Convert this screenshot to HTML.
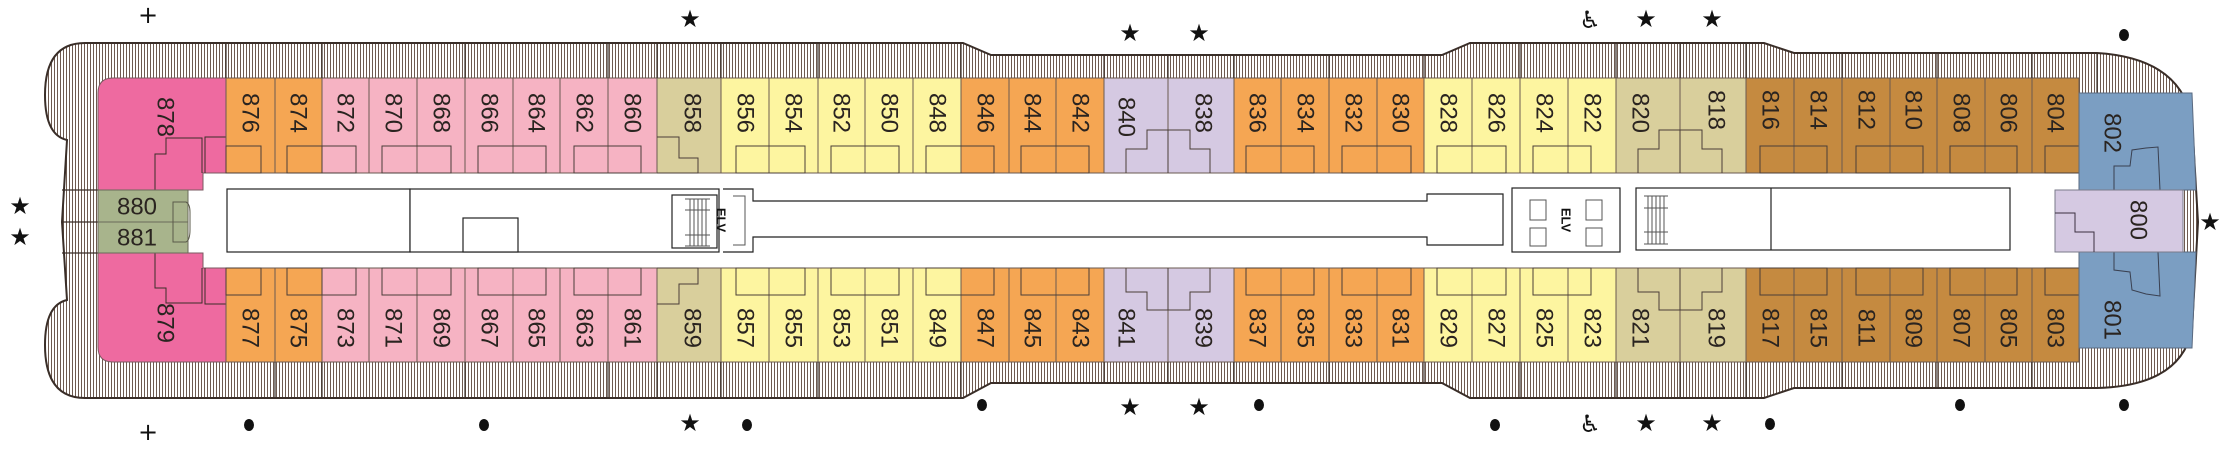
<!DOCTYPE html>
<html><head><meta charset="utf-8"><style>
html,body{margin:0;padding:0;background:#fff;}
svg{display:block}
.n{font-family:"Liberation Sans",sans-serif;font-size:24px;fill:#2a2420;text-anchor:middle;dominant-baseline:central}
.m{font-family:"DejaVu Sans",sans-serif;font-size:24px;fill:#111;text-anchor:middle;dominant-baseline:central}
</style></head><body>
<svg width="2220" height="449" viewBox="0 0 2220 449" xmlns="http://www.w3.org/2000/svg">
<defs>
<pattern id="h" width="3" height="10" patternUnits="userSpaceOnUse"><rect width="3" height="10" fill="#fff"/><rect x="0" width="1" height="10" fill="#6e5a50"/></pattern>
</defs>
<path d="M85,43 L963,43 L991,55 L1442,55 L1470,43 L1764,43 L1794,53 L2097,53 Q2180,58 2192,120 L2198,222 L2192,330 Q2180,386 2097,388 L1794,388 L1764,398 L1470,398 L1442,383 L991,383 L963,398 L85,398 Q45,398 45,345 Q45,305 67,300 L62,222 L67,140 Q45,135 45,95 Q45,43 85,43 Z" fill="url(#h)" stroke="#3a2e28" stroke-width="2"/>
<rect x="98" y="173" width="1981" height="95" fill="#fff"/>
<g stroke="#3a2e28" stroke-width="1.2">
<line x1="62" y1="190" x2="98" y2="190"/><line x1="62" y1="222" x2="98" y2="222"/><line x1="62" y1="253" x2="98" y2="253"/>
</g>
<path d="M113,78 L226,78 L226,173 L203,173 L203,190 L98,190 L98,93 Q98,78 113,78 Z" fill="#ee6aa0" stroke="#7a5a60"/>
<path d="M113,362 L226,362 L226,268 L203,268 L203,253 L98,253 L98,347 Q98,362 113,362 Z" fill="#ee6aa0" stroke="#7a5a60"/>
<path d="M155,190 L155,154 L166,154 L166,138 L202,138 L202,173 M205,173 L205,137 L226,137 M155,253 L155,288 L166,288 L166,303 L202,303 L202,268 M205,268 L205,304 L226,304" fill="none" stroke="#3a2e28"/>
<rect x="98" y="190" width="90" height="32" fill="#a8b48c" stroke="#6a6a5a"/>
<rect x="98" y="222" width="90" height="31" fill="#a8b48c" stroke="#6a6a5a"/>
<path d="M173,202 L186,202 Q190,204 190,212 L190,230 Q190,240 186,242 L173,242 Z" fill="none" stroke="#5a5a4a"/>
<text class="n" x="137" y="207" font-size="25">880</text>
<text class="n" x="137" y="238" font-size="25">881</text>
<text class="n" transform="rotate(90 165 117)" x="165" y="117">878</text>
<text class="n" transform="rotate(90 165 323)" x="165" y="323">879</text>
<g stroke="#6a5a50" stroke-width="1">
<rect x="226" y="78" width="49" height="95" fill="#f5a653"/><rect x="275" y="78" width="47" height="95" fill="#f5a653"/>
<rect x="322" y="78" width="47" height="95" fill="#f6b3c3"/><rect x="369" y="78" width="48" height="95" fill="#f6b3c3"/><rect x="417" y="78" width="48" height="95" fill="#f6b3c3"/><rect x="465" y="78" width="48" height="95" fill="#f6b3c3"/><rect x="513" y="78" width="47" height="95" fill="#f6b3c3"/><rect x="560" y="78" width="48" height="95" fill="#f6b3c3"/><rect x="608" y="78" width="49" height="95" fill="#f6b3c3"/>
<rect x="657" y="78" width="64" height="95" fill="#d9cf9c"/>
<rect x="721" y="78" width="48" height="95" fill="#fdf5a0"/><rect x="769" y="78" width="49" height="95" fill="#fdf5a0"/><rect x="818" y="78" width="47" height="95" fill="#fdf5a0"/><rect x="865" y="78" width="48" height="95" fill="#fdf5a0"/><rect x="913" y="78" width="48" height="95" fill="#fdf5a0"/>
<rect x="961" y="78" width="48" height="95" fill="#f5a653"/><rect x="1009" y="78" width="47" height="95" fill="#f5a653"/><rect x="1056" y="78" width="48" height="95" fill="#f5a653"/>
<rect x="1104" y="78" width="64" height="95" fill="#d5c9e2"/><rect x="1168" y="78" width="66" height="95" fill="#d5c9e2"/>
<rect x="1234" y="78" width="47" height="95" fill="#f5a653"/><rect x="1281" y="78" width="48" height="95" fill="#f5a653"/><rect x="1329" y="78" width="48" height="95" fill="#f5a653"/><rect x="1377" y="78" width="47" height="95" fill="#f5a653"/>
<rect x="1424" y="78" width="48" height="95" fill="#fdf5a0"/><rect x="1472" y="78" width="48" height="95" fill="#fdf5a0"/><rect x="1520" y="78" width="48" height="95" fill="#fdf5a0"/><rect x="1568" y="78" width="48" height="95" fill="#fdf5a0"/>
<rect x="1616" y="78" width="64" height="95" fill="#d9cf9c"/><rect x="1680" y="78" width="66" height="95" fill="#d9cf9c"/>
<rect x="1746" y="78" width="48" height="95" fill="#c58a40"/><rect x="1794" y="78" width="48" height="95" fill="#c58a40"/><rect x="1842" y="78" width="48" height="95" fill="#c58a40"/><rect x="1890" y="78" width="47" height="95" fill="#c58a40"/><rect x="1937" y="78" width="48" height="95" fill="#c58a40"/><rect x="1985" y="78" width="47" height="95" fill="#c58a40"/><rect x="2032" y="78" width="47" height="95" fill="#c58a40"/>
</g>
<g stroke="#6a5a50" stroke-width="1">
<rect x="226" y="268" width="49" height="94" fill="#f5a653"/><rect x="275" y="268" width="47" height="94" fill="#f5a653"/>
<rect x="322" y="268" width="47" height="94" fill="#f6b3c3"/><rect x="369" y="268" width="48" height="94" fill="#f6b3c3"/><rect x="417" y="268" width="48" height="94" fill="#f6b3c3"/><rect x="465" y="268" width="48" height="94" fill="#f6b3c3"/><rect x="513" y="268" width="47" height="94" fill="#f6b3c3"/><rect x="560" y="268" width="48" height="94" fill="#f6b3c3"/><rect x="608" y="268" width="49" height="94" fill="#f6b3c3"/>
<rect x="657" y="268" width="64" height="94" fill="#d9cf9c"/>
<rect x="721" y="268" width="48" height="94" fill="#fdf5a0"/><rect x="769" y="268" width="49" height="94" fill="#fdf5a0"/><rect x="818" y="268" width="47" height="94" fill="#fdf5a0"/><rect x="865" y="268" width="48" height="94" fill="#fdf5a0"/><rect x="913" y="268" width="48" height="94" fill="#fdf5a0"/>
<rect x="961" y="268" width="48" height="94" fill="#f5a653"/><rect x="1009" y="268" width="47" height="94" fill="#f5a653"/><rect x="1056" y="268" width="48" height="94" fill="#f5a653"/>
<rect x="1104" y="268" width="64" height="94" fill="#d5c9e2"/><rect x="1168" y="268" width="66" height="94" fill="#d5c9e2"/>
<rect x="1234" y="268" width="47" height="94" fill="#f5a653"/><rect x="1281" y="268" width="48" height="94" fill="#f5a653"/><rect x="1329" y="268" width="48" height="94" fill="#f5a653"/><rect x="1377" y="268" width="47" height="94" fill="#f5a653"/>
<rect x="1424" y="268" width="48" height="94" fill="#fdf5a0"/><rect x="1472" y="268" width="48" height="94" fill="#fdf5a0"/><rect x="1520" y="268" width="48" height="94" fill="#fdf5a0"/><rect x="1568" y="268" width="48" height="94" fill="#fdf5a0"/>
<rect x="1616" y="268" width="64" height="94" fill="#d9cf9c"/><rect x="1680" y="268" width="66" height="94" fill="#d9cf9c"/>
<rect x="1746" y="268" width="48" height="94" fill="#c58a40"/><rect x="1794" y="268" width="48" height="94" fill="#c58a40"/><rect x="1842" y="268" width="48" height="94" fill="#c58a40"/><rect x="1890" y="268" width="47" height="94" fill="#c58a40"/><rect x="1937" y="268" width="48" height="94" fill="#c58a40"/><rect x="1985" y="268" width="47" height="94" fill="#c58a40"/><rect x="2032" y="268" width="47" height="94" fill="#c58a40"/>
</g>
<g stroke="#3a2e28" stroke-width="1.2">
<line x1="226" y1="43" x2="226" y2="78"/><line x1="322" y1="43" x2="322" y2="78"/><line x1="465" y1="43" x2="465" y2="78"/><line x1="608" y1="43" x2="608" y2="78"/><line x1="657" y1="43" x2="657" y2="78"/><line x1="721" y1="43" x2="721" y2="78"/><line x1="818" y1="43" x2="818" y2="78"/><line x1="961" y1="43" x2="961" y2="78"/><line x1="1104" y1="55" x2="1104" y2="78"/><line x1="1168" y1="55" x2="1168" y2="78"/><line x1="1234" y1="55" x2="1234" y2="78"/><line x1="1329" y1="55" x2="1329" y2="78"/><line x1="1424" y1="55" x2="1424" y2="78"/><line x1="1520" y1="43" x2="1520" y2="78"/><line x1="1616" y1="43" x2="1616" y2="78"/><line x1="1680" y1="43" x2="1680" y2="78"/><line x1="1746" y1="43" x2="1746" y2="78"/><line x1="1842" y1="53" x2="1842" y2="78"/><line x1="1937" y1="53" x2="1937" y2="78"/><line x1="2032" y1="53" x2="2032" y2="78"/><line x1="2097" y1="53" x2="2097" y2="93"/>
<line x1="275" y1="362" x2="275" y2="398"/><line x1="322" y1="362" x2="322" y2="398"/><line x1="465" y1="362" x2="465" y2="398"/><line x1="608" y1="362" x2="608" y2="398"/><line x1="657" y1="362" x2="657" y2="398"/><line x1="721" y1="362" x2="721" y2="398"/><line x1="818" y1="362" x2="818" y2="398"/><line x1="961" y1="362" x2="961" y2="398"/><line x1="1104" y1="362" x2="1104" y2="383"/><line x1="1168" y1="362" x2="1168" y2="383"/><line x1="1234" y1="362" x2="1234" y2="383"/><line x1="1329" y1="362" x2="1329" y2="383"/><line x1="1424" y1="362" x2="1424" y2="383"/><line x1="1520" y1="362" x2="1520" y2="398"/><line x1="1616" y1="362" x2="1616" y2="398"/><line x1="1680" y1="362" x2="1680" y2="398"/><line x1="1746" y1="362" x2="1746" y2="398"/><line x1="1842" y1="362" x2="1842" y2="388"/><line x1="1937" y1="362" x2="1937" y2="388"/><line x1="2032" y1="362" x2="2032" y2="388"/>
</g>
<g fill="none" stroke="#4a3e38" stroke-width="1">
<rect x="226" y="146" width="35" height="27"/><rect x="287" y="146" width="35" height="27"/><rect x="322" y="146" width="34" height="27"/><rect x="382" y="146" width="69" height="27"/><rect x="478" y="146" width="68" height="27"/><rect x="574" y="146" width="67" height="27"/><rect x="736" y="146" width="69" height="27"/><rect x="831" y="146" width="68" height="27"/><rect x="926" y="146" width="68" height="27"/><rect x="1021" y="146" width="68" height="27"/><rect x="1246" y="146" width="68" height="27"/><rect x="1342" y="146" width="69" height="27"/><rect x="1437" y="146" width="69" height="27"/><rect x="1533" y="146" width="58" height="27"/><rect x="1760" y="146" width="67" height="27"/><rect x="1856" y="146" width="67" height="27"/><rect x="1950" y="146" width="67" height="27"/><rect x="2045" y="146" width="34" height="27"/>
<rect x="226" y="268" width="35" height="27"/><rect x="287" y="268" width="35" height="27"/><rect x="322" y="268" width="34" height="27"/><rect x="382" y="268" width="69" height="27"/><rect x="478" y="268" width="68" height="27"/><rect x="574" y="268" width="67" height="27"/><rect x="736" y="268" width="69" height="27"/><rect x="831" y="268" width="68" height="27"/><rect x="926" y="268" width="68" height="27"/><rect x="1021" y="268" width="68" height="27"/><rect x="1246" y="268" width="68" height="27"/><rect x="1342" y="268" width="69" height="27"/><rect x="1437" y="268" width="69" height="27"/><rect x="1533" y="268" width="58" height="27"/><rect x="1760" y="268" width="67" height="27"/><rect x="1856" y="268" width="67" height="27"/><rect x="1950" y="268" width="67" height="27"/><rect x="2045" y="268" width="34" height="27"/>
<path d="M1126,173 L1126,149 L1147,149 L1147,130 L1190,130 L1190,149 L1210,149 L1210,173 M1168,130 L1168,173"/>
<path d="M1126,268 L1126,292 L1147,292 L1147,310 L1190,310 L1190,292 L1210,292 L1210,268 M1168,268 L1168,310"/>
<path d="M1638,173 L1638,149 L1659,149 L1659,130 L1702,130 L1702,149 L1722,149 L1722,173 M1680,130 L1680,173"/>
<path d="M1638,268 L1638,292 L1659,292 L1659,310 L1702,310 L1702,292 L1722,292 L1722,268 M1680,268 L1680,310"/>
<path d="M657,137 L679,137 L679,158 L698,158 L698,173 L657,173"/>
<path d="M657,304 L679,304 L679,284 L698,284 L698,268 L657,268"/>
</g>
<path d="M2079,93 L2192,93 L2196,190 L2079,190 Z" fill="#7b9ec2" stroke="#5a6a80"/>
<path d="M2079,252 L2196,252 L2192,348 L2079,348 Z" fill="#7b9ec2" stroke="#5a6a80"/>
<path d="M2114,190 L2114,166 L2130,166 L2132,150 L2146,148 L2158,147 L2160,190 M2114,252 L2114,270 L2130,272 L2132,290 L2146,294 L2160,296 L2158,252" fill="none" stroke="#3a4050"/>
<rect x="2055" y="190" width="128" height="62" fill="#d5c9e2" stroke="#7a7a8a"/>
<path d="M2055,213 L2075,213 L2075,232 L2094,232 L2094,252" fill="none" stroke="#3a3040"/>
<text class="n" transform="rotate(90 2112 133)" x="2112" y="133">802</text>
<text class="n" transform="rotate(90 2112 320)" x="2112" y="320">801</text>
<text class="n" transform="rotate(90 2138 220)" x="2138" y="220">800</text>
<g fill="#fff" stroke="#222" stroke-width="1.2">
<rect x="227" y="189" width="183" height="63"/><rect x="410" y="189" width="309" height="63"/><rect x="463" y="218" width="55" height="34"/>
<rect x="672" y="195" width="45" height="53"/>
<path d="M723,189 L753,189 L753,201 L1427,201 L1427,194 L1503,194 L1503,245 L1427,245 L1427,237 L753,237 L753,252 L723,252" fill="#fff"/>
<rect x="1512" y="188" width="108" height="64"/>
<rect x="1636" y="188" width="374" height="62"/><line x1="1771" y1="188" x2="1771" y2="250"/>
</g>
<g stroke="#555" stroke-width="1" fill="none">
<path d="M685,199 L710,199 M685,210 L710,210 M685,235 L710,235 M685,246 L710,246 M690,199 V246 M694,199 V246 M698,199 V246 M702,199 V246 M706,199 V246"/>
<path d="M1644,196 L1668,196 M1644,208 L1668,208 M1644,232 L1668,232 M1644,244 L1668,244 M1648,196 V244 M1652,196 V244 M1656,196 V244 M1660,196 V244 M1664,196 V244"/>
<path d="M1530,200 L1546,200 L1546,220 L1530,220 Z M1530,228 L1546,228 L1546,246 L1530,246 Z M1586,200 L1602,200 L1602,220 L1586,220 Z M1586,228 L1602,228 L1602,246 L1586,246 Z M733,196 L745,196 L745,245 L733,245"/>
</g>
<text x="721" y="220" transform="rotate(90 721 220)" font-family="Liberation Sans,sans-serif" font-weight="bold" font-size="13" text-anchor="middle" dominant-baseline="central" fill="#111">ELV</text>
<text x="1566" y="220" transform="rotate(90 1566 220)" font-family="Liberation Sans,sans-serif" font-weight="bold" font-size="13" text-anchor="middle" dominant-baseline="central" fill="#111">ELV</text>
<g class="n">
<text class="n" transform="rotate(90 250 113)" x="250" y="113">876</text>
<text class="n" transform="rotate(90 298 113)" x="298" y="113">874</text>
<text class="n" transform="rotate(90 345 113)" x="345" y="113">872</text>
<text class="n" transform="rotate(90 393 113)" x="393" y="113">870</text>
<text class="n" transform="rotate(90 441 113)" x="441" y="113">868</text>
<text class="n" transform="rotate(90 489 113)" x="489" y="113">866</text>
<text class="n" transform="rotate(90 536 113)" x="536" y="113">864</text>
<text class="n" transform="rotate(90 584 113)" x="584" y="113">862</text>
<text class="n" transform="rotate(90 632 113)" x="632" y="113">860</text>
<text class="n" transform="rotate(90 692 113)" x="692" y="113">858</text>
<text class="n" transform="rotate(90 745 113)" x="745" y="113">856</text>
<text class="n" transform="rotate(90 793 113)" x="793" y="113">854</text>
<text class="n" transform="rotate(90 841 113)" x="841" y="113">852</text>
<text class="n" transform="rotate(90 889 113)" x="889" y="113">850</text>
<text class="n" transform="rotate(90 937 113)" x="937" y="113">848</text>
<text class="n" transform="rotate(90 985 113)" x="985" y="113">846</text>
<text class="n" transform="rotate(90 1032 113)" x="1032" y="113">844</text>
<text class="n" transform="rotate(90 1080 113)" x="1080" y="113">842</text>
<text class="n" transform="rotate(90 1126 117)" x="1126" y="117">840</text>
<text class="n" transform="rotate(90 1203 113)" x="1203" y="113">838</text>
<text class="n" transform="rotate(90 1257 113)" x="1257" y="113">836</text>
<text class="n" transform="rotate(90 1305 113)" x="1305" y="113">834</text>
<text class="n" transform="rotate(90 1353 113)" x="1353" y="113">832</text>
<text class="n" transform="rotate(90 1400 113)" x="1400" y="113">830</text>
<text class="n" transform="rotate(90 1448 113)" x="1448" y="113">828</text>
<text class="n" transform="rotate(90 1496 113)" x="1496" y="113">826</text>
<text class="n" transform="rotate(90 1544 113)" x="1544" y="113">824</text>
<text class="n" transform="rotate(90 1592 113)" x="1592" y="113">822</text>
<text class="n" transform="rotate(90 1640 113)" x="1640" y="113">820</text>
<text class="n" transform="rotate(90 1716 110)" x="1716" y="110">818</text>
<text class="n" transform="rotate(90 1770 110)" x="1770" y="110">816</text>
<text class="n" transform="rotate(90 1818 110)" x="1818" y="110">814</text>
<text class="n" transform="rotate(90 1866 110)" x="1866" y="110">812</text>
<text class="n" transform="rotate(90 1913 110)" x="1913" y="110">810</text>
<text class="n" transform="rotate(90 1961 113)" x="1961" y="113">808</text>
<text class="n" transform="rotate(90 2008 113)" x="2008" y="113">806</text>
<text class="n" transform="rotate(90 2055 113)" x="2055" y="113">804</text>
<text class="n" transform="rotate(90 250 328)" x="250" y="328">877</text>
<text class="n" transform="rotate(90 298 328)" x="298" y="328">875</text>
<text class="n" transform="rotate(90 345 328)" x="345" y="328">873</text>
<text class="n" transform="rotate(90 393 328)" x="393" y="328">871</text>
<text class="n" transform="rotate(90 441 328)" x="441" y="328">869</text>
<text class="n" transform="rotate(90 489 328)" x="489" y="328">867</text>
<text class="n" transform="rotate(90 536 328)" x="536" y="328">865</text>
<text class="n" transform="rotate(90 584 328)" x="584" y="328">863</text>
<text class="n" transform="rotate(90 632 328)" x="632" y="328">861</text>
<text class="n" transform="rotate(90 692 328)" x="692" y="328">859</text>
<text class="n" transform="rotate(90 745 328)" x="745" y="328">857</text>
<text class="n" transform="rotate(90 793 328)" x="793" y="328">855</text>
<text class="n" transform="rotate(90 841 328)" x="841" y="328">853</text>
<text class="n" transform="rotate(90 889 328)" x="889" y="328">851</text>
<text class="n" transform="rotate(90 937 328)" x="937" y="328">849</text>
<text class="n" transform="rotate(90 985 328)" x="985" y="328">847</text>
<text class="n" transform="rotate(90 1032 328)" x="1032" y="328">845</text>
<text class="n" transform="rotate(90 1080 328)" x="1080" y="328">843</text>
<text class="n" transform="rotate(90 1126 328)" x="1126" y="328">841</text>
<text class="n" transform="rotate(90 1203 328)" x="1203" y="328">839</text>
<text class="n" transform="rotate(90 1257 328)" x="1257" y="328">837</text>
<text class="n" transform="rotate(90 1305 328)" x="1305" y="328">835</text>
<text class="n" transform="rotate(90 1353 328)" x="1353" y="328">833</text>
<text class="n" transform="rotate(90 1400 328)" x="1400" y="328">831</text>
<text class="n" transform="rotate(90 1448 328)" x="1448" y="328">829</text>
<text class="n" transform="rotate(90 1496 328)" x="1496" y="328">827</text>
<text class="n" transform="rotate(90 1544 328)" x="1544" y="328">825</text>
<text class="n" transform="rotate(90 1592 328)" x="1592" y="328">823</text>
<text class="n" transform="rotate(90 1640 328)" x="1640" y="328">821</text>
<text class="n" transform="rotate(90 1716 328)" x="1716" y="328">819</text>
<text class="n" transform="rotate(90 1770 328)" x="1770" y="328">817</text>
<text class="n" transform="rotate(90 1818 328)" x="1818" y="328">815</text>
<text class="n" transform="rotate(90 1866 328)" x="1866" y="328">811</text>
<text class="n" transform="rotate(90 1913 328)" x="1913" y="328">809</text>
<text class="n" transform="rotate(90 1961 328)" x="1961" y="328">807</text>
<text class="n" transform="rotate(90 2008 328)" x="2008" y="328">805</text>
<text class="n" transform="rotate(90 2055 328)" x="2055" y="328">803</text>
</g>
<g class="m">
<text class="m" x="148" y="15" font-size="28">+</text>
<text class="m" x="148" y="432" font-size="28">+</text>
<text class="m" x="690" y="19">★</text><text class="m" x="690" y="423">★</text>
<text class="m" x="1130" y="33">★</text><text class="m" x="1199" y="33">★</text>
<text class="m" x="1130" y="407">★</text><text class="m" x="1199" y="407">★</text>
<text class="m" x="1590" y="20">♿</text><text class="m" x="1646" y="19">★</text><text class="m" x="1712" y="19">★</text>
<text class="m" x="1590" y="424">♿</text><text class="m" x="1646" y="423">★</text><text class="m" x="1712" y="423">★</text>
<text class="m" x="20" y="206">★</text><text class="m" x="20" y="237">★</text>
<text class="m" x="2210" y="222">★</text>
</g>
<g fill="#111">
<ellipse cx="2124" cy="35" rx="5" ry="6"/>
<ellipse cx="249" cy="425" rx="5" ry="6"/><ellipse cx="484" cy="425" rx="5" ry="6"/><ellipse cx="747" cy="425" rx="5" ry="6"/>
<ellipse cx="982" cy="405" rx="5" ry="6"/><ellipse cx="1259" cy="405" rx="5" ry="6"/><ellipse cx="1495" cy="425" rx="5" ry="6"/>
<ellipse cx="1770" cy="424" rx="5" ry="6"/><ellipse cx="1960" cy="405" rx="5" ry="6"/><ellipse cx="2124" cy="405" rx="5" ry="6"/>
</g>
</svg>
</body></html>
